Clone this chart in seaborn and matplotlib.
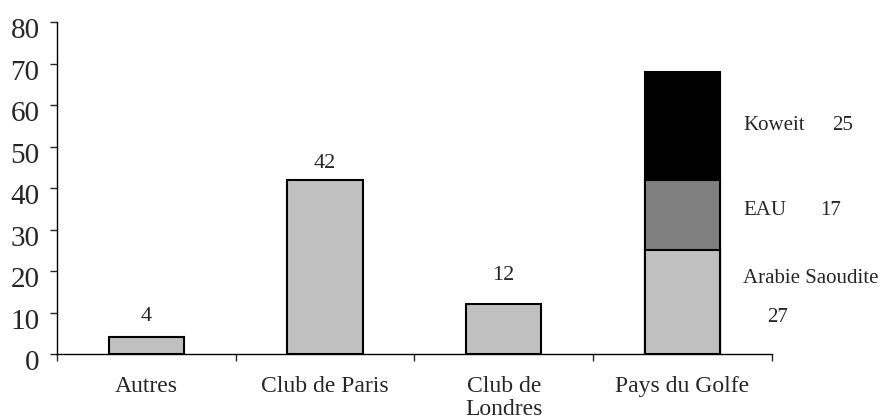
import pandas as pd
import matplotlib.pyplot as plt
import matplotlib.transforms as mtransforms
import seaborn as sns

categories = ["Autres", "Club de Paris", "Club de\nLondres", "Pays du Golfe"]
values = [4, 42, 12, 0]  # Pays du Golfe est empilé
label_offsets = [5, 4, 7]

golfe_parts = ["Arabie Saoudite", "EAU", "Koweit"]
golfe_values = [25, 17, 26]
golfe_numbers = ["27", "17", "25"]

sns.set_style("white")
plt.rcParams['font.family'] = ['Liberation Serif', 'DejaVu Serif']

fig = plt.figure(figsize=(8.82, 4.19), dpi=100)
ax = fig.add_axes([0.0646, 0.155, 0.8104, 0.792])

light = "#C0C0C0"
mid = "#808080"
dark = "#000000"

# piles: on dessine le cumul du haut vers le bas
cum = [sum(golfe_values[:i + 1]) for i in range(len(golfe_values))]
golfe_colors = [light, mid, dark]

df = pd.DataFrame({"cat": categories, "val": values})
df.loc[3, "val"] = cum[-1]
pal = [light, light, light, dark]
sns.barplot(data=df, x="cat", y="val", hue="cat", palette=pal, legend=False,
            order=categories, width=0.42, edgecolor="black", linewidth=1.5,
            saturation=1, ax=ax)
for i in [1, 0]:
    sub = pd.DataFrame({"cat": [categories[3]], "val": [cum[i]]})
    sns.barplot(data=sub, x="cat", y="val", order=categories, color=golfe_colors[i],
                width=0.42, edgecolor="black", linewidth=1.5, saturation=1, ax=ax)

# étiquettes de valeurs
for i in range(3):
    ax.text(i, values[i] + label_offsets[i], str(values[i]), ha="center", va="center",
            fontsize=16)

fs = 15
ax.text(3.34, 55.0, golfe_parts[2], ha="left", va="center", fontsize=fs)
ax.text(3.84, 55.0, golfe_numbers[2], ha="left", va="center", fontsize=fs)
ax.text(3.34, 34.6, golfe_parts[1], ha="left", va="center", fontsize=fs)
ax.text(3.77, 34.6, golfe_numbers[1], ha="left", va="center", fontsize=fs)
ax.text(3.34, 18.3, golfe_parts[0], ha="left", va="center", fontsize=fs)
ax.text(3.53, 8.9, golfe_numbers[0], ha="center", va="center", fontsize=fs)

ax.set_xlim(-0.5, 3.5)
ax.set_ylim(0, 80)
ax.set_yticks(range(0, 81, 10))
ax.tick_params(axis="y", labelsize=21, length=5, width=1, direction="out", pad=7.5, left=True)
shift = mtransforms.ScaledTranslation(0, -0.06, fig.dpi_scale_trans)
for lab in ax.get_yticklabels():
    lab.set_transform(lab.get_transform() + shift)
ax.set_xticks([-0.5, 0.5, 1.5, 2.5, 3.5])
ax.set_xticklabels([])
ax.set_xticks(range(4), minor=True)
ax.set_xticklabels(categories, minor=True, fontsize=17, linespacing=1.1)
ax.tick_params(axis="x", which="major", length=5, width=1, direction="out", bottom=True)
ax.tick_params(axis="x", which="minor", length=0, pad=16)
ax.set_xlabel("")
ax.set_ylabel("")

sns.despine(ax=ax)
for s in ["left", "bottom"]:
    ax.spines[s].set_color("black")
    ax.spines[s].set_linewidth(1)

fig.savefig("out.png", dpi=100)
